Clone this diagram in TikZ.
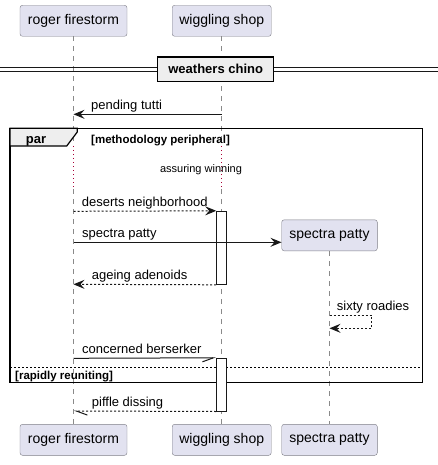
\documentclass[tikz,border=0pt]{standalone}
\usepackage{fontspec}
\setmainfont{Liberation Sans}
\usetikzlibrary{arrows.meta,backgrounds}

\definecolor{partfill}{HTML}{E2E2F0}
\definecolor{partline}{HTML}{7F7F88}
\definecolor{msgline}{HTML}{181818}
\definecolor{lifegray}{HTML}{8A8A8A}
\definecolor{delayred}{HTML}{A80036}
\definecolor{tabfill}{HTML}{EEEEEE}

\begin{document}
\begin{tikzpicture}[x=1pt, y=-1pt, background rectangle/.style={fill=white}, inner frame sep=0pt, show background rectangle]

  \useasboundingbox (0,0) rectangle (438,465);

  \edef\headrow{20.8}
  \edef\footrow{439.8}
  \tikzstyle{actor}=[draw=partline, fill=partfill, rounded corners=2.5pt, minimum height=31pt, inner sep=0pt, font=\fontsize{14}{16}\selectfont]
  \tikzstyle{life}=[draw=lifegray, line width=0.8pt, dash pattern=on 5pt off 5pt]
  \tikzstyle{delay}=[draw=delayred, line width=0.8pt, dash pattern=on 1pt off 3pt]
  \tikzstyle{msg}=[draw=msgline, line width=1pt]
  \tikzstyle{reply}=[msg, dash pattern=on 2pt off 2pt]
  \tikzstyle{fullhead}=[-{Stealth[length=11pt, width=9pt, inset=4pt]}]
  \tikzstyle{lbl}=[font=\fontsize{13}{15}\selectfont, inner sep=0pt, anchor=base west]
  \tikzstyle{guardlbl}=[font=\fontsize{11.5}{13}\selectfont\bfseries, inner sep=0pt, anchor=base west]
  \tikzstyle{actbar}=[draw=msgline, fill=white, line width=1pt, minimum width=10pt, inner sep=0pt]
  \tikzstyle{frame}=[draw=black, line width=1.5pt]

  % participants
  \node[actor, minimum width=107pt] (roger) at (73.5,\headrow) {roger firestorm};
  \node[actor, minimum width=99pt] (shop) at (221.7,\headrow) {wiggling shop};
  \node[actor, minimum width=95.6pt] (patty) at (329.5,235.3) {spectra patty};
  \node[actor, minimum width=107pt] (roger foot) at (73.5,\footrow) {roger firestorm};
  \node[actor, minimum width=99pt] (shop foot) at (221.7,\footrow) {wiggling shop};
  \node[actor, minimum width=95.6pt] (patty foot) at (329.5,\footrow) {spectra patty};

  % lifelines
  \foreach \p in {roger,shop}
    {
      \coordinate (\p\space d1) at (\p.south |- 0,146);
      \coordinate (\p\space d2) at (\p.south |- 0,189);
      \draw[life] (\p.south) -- (\p\space d1);
      \draw[delay] (\p\space d1) -- (\p\space d2);
      \draw[life] (\p\space d2) -- (\p\space foot.north);
    }
  \draw[life] (patty.south) -- (patty foot.north);

  % divider
  \draw[msg] (0,68) -- (438,68);
  \draw[msg] (0,72) -- (438,72);
  \node[draw=black, line width=1.5pt, fill=tabfill, minimum width=116pt, minimum height=24.7pt, inner sep=0pt,
        font=\fontsize{13}{15}\selectfont\bfseries] (chino) at (215.7,69.3) {weathers chino};

  \draw[msg, fullhead] (shop.south |- 0,114.3) -- (roger.south |- 0,114.3);
  \node[lbl] (pending) at (91,109.3) {pending tutti};

  % par frame
  \draw[frame] (10,128.3) rectangle (422.7,382.3);
  \draw[frame, line width=1.2pt, fill=tabfill] (10,128.3) -- (77.3,128.3) -- (77.3,132) -- (66.7,146) -- (10,146) -- cycle;
  \node[font=\fontsize{13}{15}\selectfont\bfseries, inner sep=0pt, anchor=base] (par) at (36,144) {par};
  \node[guardlbl] (guard) at (91,143) {[methodology peripheral]};
  \node[font=\fontsize{11}{13}\selectfont, inner sep=0pt] (assuring) at (201,169.5) {assuring winning};

  % else
  \draw[draw=black, line width=0.8pt, dash pattern=on 2pt off 2pt] (10,367.3) -- (422.7,367.3);
  \node[guardlbl] (else) at (15,379) {[rapidly reuniting]};

  % activations
  \node[actbar, minimum height=73pt] (act1) at (221.7,247.8) {};
  \node[actbar, minimum height=52.7pt] (act2) at (221.7,384.65) {};

  \draw[reply, fullhead] (roger.south |- 0,211.3) -- (act1.north west);
  \node[lbl] (deserts) at (81.7,206.5) {deserts neighborhood};

  \draw[msg, fullhead] (roger.south |- 0,242.3) -- (patty.west |- 0,242.3);
  \node[lbl] (spectra) at (82,237.5) {spectra patty};

  \draw[reply, fullhead] (act1.south west) -- (roger.south |- 0,284.3);
  \node[lbl] (ageing) at (91.7,279.5) {ageing adenoids};

  % self message
  \coordinate (loop a) at (371.7,315);
  \coordinate (loop b) at (371.7,328.3);
  \draw[reply, fullhead] (patty.south |- 0,315) -- (loop a) -- (loop b) -- (patty.south |- 0,328.3);
  \node[lbl] (sixty) at (336.7,310.2) {sixty roadies};

  \draw[msg, -{Straight Barb[right, length=11pt, width=8pt]}] (roger.south |- 0,358.3) -- (act2.north west);
  \node[lbl] (concerned) at (82,353.5) {concerned berserker};

  \draw[reply, -{Straight Barb[left, length=11pt, width=8pt]}] (act2.south west) -- (roger.south |- 0,411);
  \node[lbl] (piffle) at (91.7,406.2) {piffle dissing};
\end{tikzpicture}
\end{document}
